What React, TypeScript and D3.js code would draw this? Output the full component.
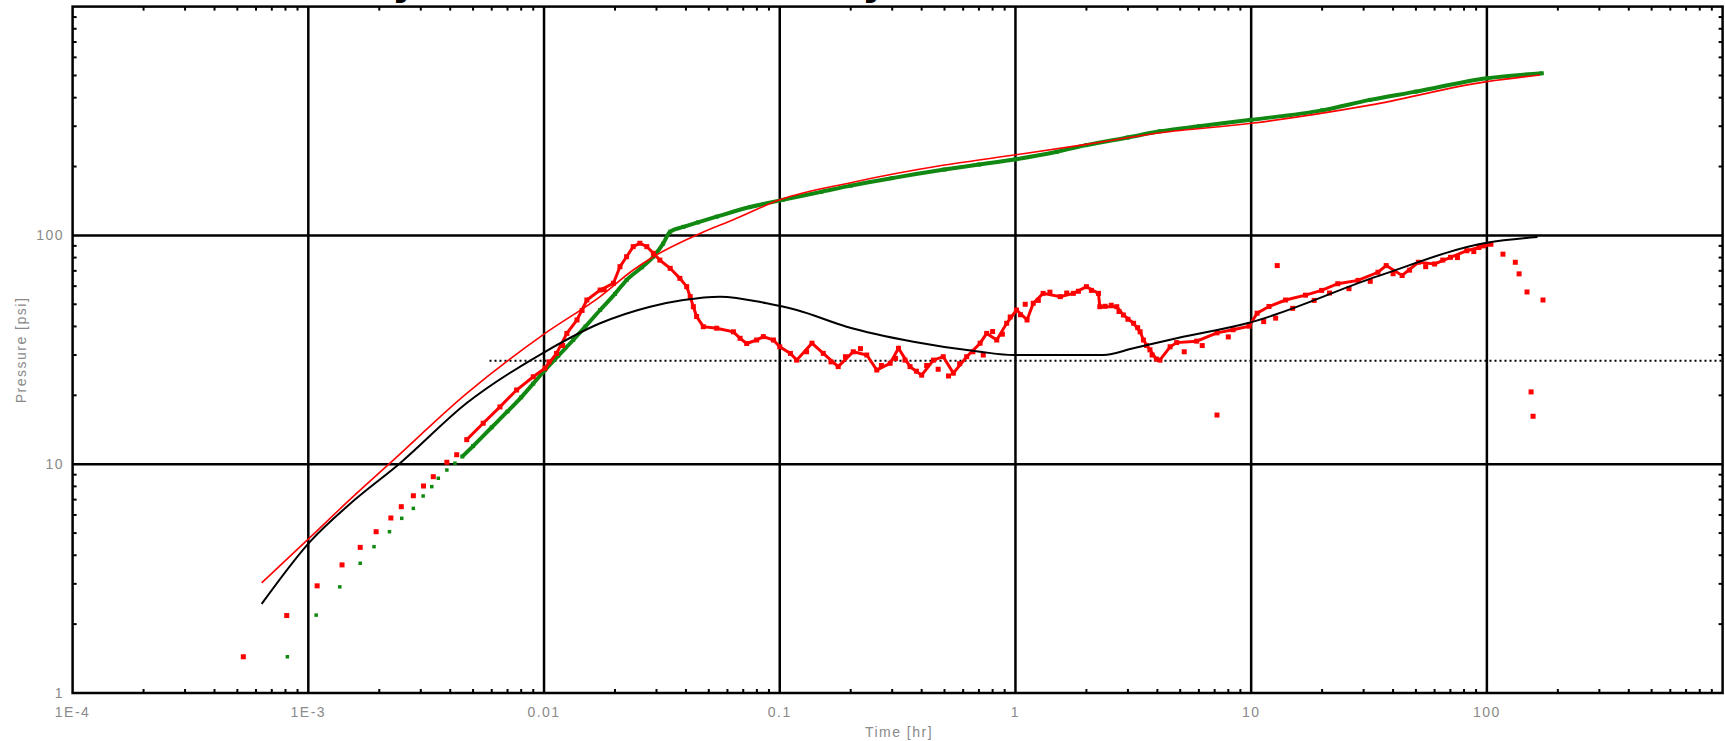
import React from 'react';
import * as d3 from 'd3';

const W = 1725;
const H = 741;

// axis ticks
const xTickValues = [1e-4, 1e-3, 1e-2, 1e-1, 1, 10, 100];
const xTickLabels = ['1E-4', '1E-3', '0.01', '0.1', '1', '10', '100'];
const xGridValues = [1e-3, 1e-2, 1e-1, 1, 10, 100];
const yTickValues = [1, 10, 100];
const yTickLabels = ['1', '10', '100'];
const yGridValues = [10, 100];

// measured pressure change (green) - early sparse points
const greenEarlyT = [8.15e-4, 1.08e-3, 1.36e-3, 1.66e-3, 1.9e-3, 2.21e-3, 2.49e-3, 2.79e-3, 3.07e-3, 3.34e-3, 3.56e-3, 3.87e-3, 4.19e-3];
const greenEarlyP = [1.44, 2.19, 2.91, 3.69, 4.36, 5.07, 5.8, 6.41, 7.26, 7.98, 8.68, 9.43, 10.1];

// measured pressure change (green) - dense part
const greenT = [4.5e-3, 5e-3, 6e-3, 7e-3, 8e-3, 9e-3, 0.0101, 0.0115, 0.0133, 0.015, 0.0173, 0.02, 0.0224, 0.026, 0.0291, 0.032, 0.0343, 0.039, 0.045, 0.054, 0.0749, 0.103, 0.15, 0.2, 0.3, 0.5, 0.7, 1, 1.5, 2, 3, 4.1, 6, 10, 20, 31.9, 50, 100, 171];
const greenP = [10.8, 12.0, 14.5, 17.0, 19.6, 22.5, 25.8, 29.8, 34.9, 40, 47.2, 55.5, 63.8, 72.5, 80.7, 92, 103.8, 109, 114, 120.7, 133, 143, 155, 165, 178, 194, 204, 215, 232, 248, 268, 285, 300, 320, 352, 391, 425, 486, 511];

// measured derivative (red points) - early sparse
const derivEarlyT = [5.3e-4, 8.1e-4, 1.09e-3, 1.39e-3, 1.66e-3, 1.94e-3, 2.24e-3, 2.48e-3, 2.79e-3, 3.08e-3, 3.39e-3, 3.87e-3, 4.26e-3];
const derivEarlyP = [1.44, 2.18, 2.94, 3.63, 4.33, 5.07, 5.82, 6.52, 7.28, 8.03, 8.82, 10.2, 11.0];

// measured derivative (red points) - main band
const derivT = [4.7e-3, 5.52e-3, 6.5e-3, 7.65e-3, 9e-3, 0.0101, 0.0113, 0.0125, 0.0138, 0.0152, 0.0173, 0.0197, 0.021, 0.0224, 0.0239, 0.0255, 0.0273, 0.0291, 0.031, 0.0343, 0.0377, 0.0403, 0.0417, 0.043, 0.0444, 0.0474, 0.054, 0.0636, 0.0679, 0.0724, 0.0798, 0.0852, 0.094, 0.1, 0.111, 0.118, 0.137, 0.153, 0.177, 0.205, 0.234, 0.258, 0.294, 0.319, 0.357, 0.4, 0.449, 0.494, 0.545, 0.621, 0.708, 0.755, 0.833, 0.918, 1.01, 1.12, 1.19, 1.31, 1.55, 1.76, 2.0, 2.25, 2.28, 2.69, 2.87, 3.17, 3.38, 3.49, 3.72, 3.96, 4.1, 4.53, 4.83, 5.87, 7.16, 8.38, 9.8, 10.6, 11.9, 14.0, 17.0, 19.9, 23.3, 28.4, 34.5, 37.4, 43.7, 51.2, 60, 70.1, 82.2, 92.5, 104];
const derivP = [12.8, 15.1, 17.8, 21.1, 24.1, 26.3, 30.5, 37.3, 42.7, 52.2, 57.7, 61.8, 73, 80.7, 89.3, 92.4, 89.3, 83.5, 78, 71.8, 64.9, 59.7, 54, 48.8, 44.2, 39.9, 39.3, 37.9, 35.5, 33.7, 34.9, 36.1, 34.9, 32.6, 30.5, 28.5, 33.8, 30.5, 26.7, 31.0, 30.0, 25.8, 27.6, 32.1, 26.7, 24.5, 28.5, 29.5, 25.0, 29.5, 33.8, 37.3, 34.9, 41.3, 47.2, 42.7, 50.5, 55.8, 54, 55.8, 59.7, 55.8, 48.8, 48.8, 44.9, 41.3, 37.9, 34.9, 31.6, 28.8, 28.5, 32.6, 34, 34.5, 37.5, 38.7, 40.1, 45.7, 48.9, 52.2, 54.8, 57.5, 61.5, 63.6, 69, 73.8, 66.8, 76.3, 75, 80.2, 85.7, 88.5, 91.5];

// extra derivative points scattered around the band
const derivScatterT = [0.0105, 0.012, 0.0145, 0.018, 0.13, 0.165, 0.19, 0.22, 0.27, 0.31, 0.34, 0.38, 0.42, 0.47, 0.52, 0.58, 0.66, 0.73, 0.8, 0.88, 0.95, 1.05, 1.1, 1.25, 1.4, 1.65, 1.85, 2.1, 2.4, 2.55, 2.75, 3.0, 3.3, 3.6, 3.8, 5.2, 6.2, 8.0, 11.3, 15, 18.5, 21.5, 26, 32, 40, 47, 55, 65, 75, 88, 97];
const derivScatterP = [28, 33, 47, 58, 31, 28, 29.5, 32, 27, 29, 28.5, 25.5, 27, 26, 24.3, 27.5, 31, 30, 38, 37, 44, 45, 50, 52, 56.5, 56, 57, 57.5, 49, 49.5, 46.5, 43, 39.5, 33, 30, 31, 33, 36, 42, 48, 52, 56, 58.5, 63, 68, 70.5, 73, 78, 80, 85, 90];

// derivative outliers / late-time tail
const derivOutT = [7.16, 12.9, 12.7, 117, 132, 137, 148, 173, 154, 157];
const derivOutP = [16.4, 73.8, 43.5, 82.8, 76.3, 67.9, 56.6, 52.2, 20.7, 16.2];

// model pressure (red line)
const modelPT = [6.34e-4, 1.02e-3, 1.5e-3, 2.22e-3, 4.7e-3, 0.0101, 0.0173, 0.0239, 0.0291, 0.0459, 0.0635, 0.1, 0.2, 0.5, 1, 2, 4.11, 10, 31.9, 100, 168];
const modelPP = [3.03, 4.8, 7.0, 10.1, 20.4, 37.3, 54, 70.6, 80.7, 102, 117, 143, 170, 203, 225, 250, 281, 309, 371, 470, 502];

// model derivative (black line)
const modelDT = [6.34e-4, 1.02e-3, 1.5e-3, 2.45e-3, 4.7e-3, 0.0101, 0.0173, 0.0282, 0.039, 0.0558, 0.088, 0.118, 0.192, 0.369, 0.708, 0.98, 2.36, 3.16, 4.83, 9.8, 34.5, 100, 164];
const modelDP = [2.45, 4.6, 6.7, 10.1, 18.5, 31.0, 41.3, 48.8, 52.2, 54, 50.5, 47.2, 39.9, 34.3, 31.0, 30.0, 30.0, 32.1, 35.5, 41.5, 66.4, 92.9, 98.4];

// radial flow stabilization (dotted)
const stabLevel = 28.3;
const stabStartT = 5.87e-3;
const stabEndT = 1000;

const zip = (t: number[], p: number[]) => t.map((v, i) => [v, p[i]] as [number, number]);

export default function App() {
  const left = 72.6, right = 1722.6, top = 6.6, bottom = 693;
  const x = d3.scaleLog().domain([1e-4, 1e3]).range([left, right]);
  const y = d3.scaleLog().domain([1, 1000]).range([bottom, top]);

  const line = d3.line<[number, number]>().x(d => x(d[0])).y(d => y(d[1])).curve(d3.curveMonotoneX);
  const straight = d3.line<[number, number]>().x(d => x(d[0])).y(d => y(d[1]));

  const minorX = x.ticks().filter(v => Math.abs(Math.log10(v) - Math.round(Math.log10(v))) > 1e-6);
  const minorY = y.ticks().filter(v => Math.abs(Math.log10(v) - Math.round(Math.log10(v))) > 1e-6);

  const green = zip(greenT, greenP);
  const greenEarly = zip(greenEarlyT, greenEarlyP);
  const deriv = zip(derivT, derivP);
  const derivEarly = zip(derivEarlyT, derivEarlyP);
  const derivScatter = zip(derivScatterT, derivScatterP);
  const derivOut = zip(derivOutT, derivOutP);
  const modelP = zip(modelPT, modelPP);
  const modelD = zip(modelDT, modelDP);

  const textStyle: React.CSSProperties = { fontFamily: '"Liberation Sans", Arial, sans-serif', fontSize: 14, letterSpacing: 1.5 };
  const gray = '#8a8a8a';
  const red = '#ff0000';
  const grn = '#118811';

  const sq = (d: [number, number], s: number, color: string, key: string) => (
    <rect key={key} x={x(d[0]) - s / 2} y={y(d[1]) - s / 2} width={s} height={s} fill={color} />
  );

  return (
    <svg width={W} height={H} style={{ position: 'fixed', left: 0, top: 0, background: '#fff' }}>
      <rect x={0} y={0} width={W} height={H} fill="#fff" />
      {/* title above the frame, clipped by the picture edge in the reference */}
      <text x={392} y={-6} style={{ fontFamily: '"DejaVu Sans", sans-serif', fontWeight: 'bold', fontSize: 40 }} fill="#000">y</text>
      <text x={862} y={-6} style={{ fontFamily: '"DejaVu Sans", sans-serif', fontWeight: 'bold', fontSize: 40 }} fill="#000">y</text>

      {/* gridlines */}
      {xGridValues.map(v => (
        <line key={'gx' + v} x1={x(v)} x2={x(v)} y1={top} y2={bottom} stroke="#000" strokeWidth={2.5} />
      ))}
      {yGridValues.map(v => (
        <line key={'gy' + v} x1={left} x2={right} y1={y(v)} y2={y(v)} stroke="#000" strokeWidth={2.5} />
      ))}

      {/* minor ticks */}
      {minorX.map(v => (
        <g key={'mx' + v}>
          <line x1={x(v)} x2={x(v)} y1={bottom} y2={bottom - 4} stroke="#000" strokeWidth={2} />
          <line x1={x(v)} x2={x(v)} y1={top} y2={top + 4} stroke="#000" strokeWidth={2} />
        </g>
      ))}
      {minorY.map(v => (
        <g key={'my' + v}>
          <line x1={left} x2={left + 4} y1={y(v)} y2={y(v)} stroke="#000" strokeWidth={2} />
          <line x1={right} x2={right - 4} y1={y(v)} y2={y(v)} stroke="#000" strokeWidth={2} />
        </g>
      ))}

      {/* dotted stabilization line */}
      <line x1={x(stabStartT)} x2={x(stabEndT)} y1={y(stabLevel)} y2={y(stabLevel)} stroke="#000" strokeWidth={2} strokeDasharray="2,3" />

      {/* green pressure data */}
      {greenEarly.map((d, i) => sq(d, 3.5, grn, 'ge' + i))}
      <path d={line(green) || ''} fill="none" stroke={grn} strokeWidth={4} />
      {green.map((d, i) => sq(d, 4, grn, 'g' + i))}

      {/* red derivative data */}
      {derivEarly.map((d, i) => sq(d, 5, red, 'de' + i))}
      <path d={straight(deriv) || ''} fill="none" stroke={red} strokeWidth={3} />
      {deriv.map((d, i) => sq(d, 5, red, 'd' + i))}
      {derivScatter.map((d, i) => sq(d, 5, red, 'ds' + i))}
      {derivOut.map((d, i) => sq(d, 5, red, 'do' + i))}

      {/* model curves */}
      <path d={line(modelP) || ''} fill="none" stroke={red} strokeWidth={1.6} />
      <path d={line(modelD) || ''} fill="none" stroke="#000" strokeWidth={2} />

      {/* frame */}
      <rect x={left} y={top} width={right - left} height={bottom - top} fill="none" stroke="#000" strokeWidth={2.5} />

      {/* tick labels */}
      {xTickValues.map((v, i) => (
        <text key={'xl' + v} x={x(v)} y={717} textAnchor="middle" fill={gray} style={textStyle}>{xTickLabels[i]}</text>
      ))}
      {yTickValues.map((v, i) => (
        <text key={'yl' + v} x={64} y={y(v) + 5} textAnchor="end" fill={gray} style={textStyle}>{yTickLabels[i]}</text>
      ))}

      {/* axis titles */}
      <text x={899} y={737} textAnchor="middle" fill={gray} style={textStyle}>Time [hr]</text>
      <text transform={`translate(26, 350) rotate(-90)`} textAnchor="middle" fill={gray} style={textStyle}>Pressure [psi]</text>
    </svg>
  );
}
